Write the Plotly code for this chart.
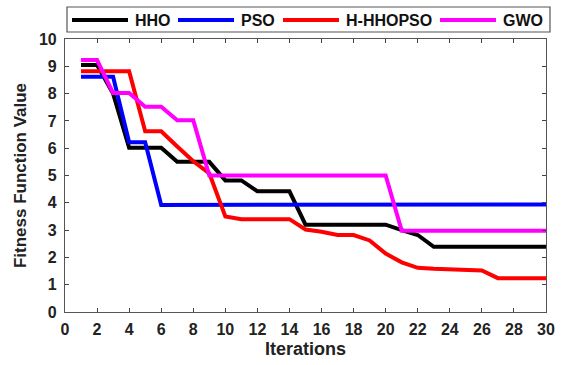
import plotly.graph_objects as go

iterations = list(range(1, 31))
hho = [9.05, 9.05, 8.0, 6.02, 6.02, 6.02, 5.5, 5.5, 5.5, 4.82, 4.82, 4.42, 4.42, 4.42, 3.2,
       3.2, 3.2, 3.2, 3.2, 3.2, 3.0, 2.82, 2.39, 2.39, 2.39, 2.39, 2.39, 2.39, 2.39, 2.39]
pso = [8.62, 8.62, 8.62, 6.22, 6.22, 3.92, 3.92, 3.92, 3.92, 3.92, 3.92, 3.92, 3.92, 3.92, 3.92,
       3.92, 3.92, 3.92, 3.92, 3.92, 3.92, 3.92, 3.92, 3.92, 3.92, 3.92, 3.92, 3.92, 3.92, 3.94]
hhopso = [8.82, 8.82, 8.82, 8.82, 6.62, 6.62, 6.06, 5.52, 5.08, 3.5, 3.4, 3.4, 3.4, 3.4, 3.02,
          2.94, 2.82, 2.82, 2.62, 2.14, 1.82, 1.62, 1.58, 1.57, 1.55, 1.52, 1.24, 1.24, 1.24, 1.24]
gwo = [9.23, 9.23, 8.02, 8.02, 7.52, 7.52, 7.02, 7.02, 5.0, 5.0, 5.0, 5.0, 5.0, 5.0, 5.0,
       5.0, 5.0, 5.0, 5.0, 5.0, 2.98, 2.98, 2.98, 2.98, 2.98, 2.98, 2.98, 2.98, 2.98, 2.98]

names = ["HHO", "PSO", "H-HHOPSO", "GWO"]
colors = ["#000000", "#0000FF", "#FF0000", "#FF00FF"]
values = [hho, pso, hhopso, gwo]

x_ticks = list(range(0, 31, 2))
y_ticks = list(range(0, 11))

W, H = 565, 365
ML, MR, MT, MB = 65, 19, 39, 53
PW, PH = W - ML - MR, H - MT - MB


def px(p):
    return (p - ML) / PW


def py(p):
    return (H - MB - p) / PH


fig = go.Figure()
for name, vals, col in zip(names, values, colors):
    fig.add_trace(go.Scatter(x=iterations, y=vals, mode="lines", name=name,
                             line=dict(color=col, width=4), showlegend=False))

font = "Arial, Liberation Sans, sans-serif"

# custom legend (box, line samples, labels)
shapes = [dict(type="rect", xref="paper", yref="paper", x0=px(67), x1=px(550),
               y0=py(32), y1=py(7), line=dict(color="#555555", width=1.2),
               fillcolor="white", layer="above")]
annotations = []
line_starts = [72, 178, 283, 440]
for name, col, ls in zip(names, colors, line_starts):
    shapes.append(dict(type="line", xref="paper", yref="paper", x0=px(ls), x1=px(ls + 56),
                       y0=py(20), y1=py(20), line=dict(color=col, width=4), layer="above"))
    annotations.append(dict(text=name, xref="paper", yref="paper", x=px(ls + 61), y=py(20.5),
                            xanchor="left", yanchor="middle", showarrow=False,
                            font=dict(size=16, family=font, color="#111111", weight="bold")))

fig.update_layout(
    width=W, height=H,
    margin=dict(l=ML, r=MR, t=MT, b=MB, autoexpand=False),
    plot_bgcolor="white", paper_bgcolor="white",
    font=dict(family=font, color="#222222"),
    showlegend=False,
    shapes=shapes, annotations=annotations,
    xaxis=dict(range=[0, 30], tickvals=x_ticks, ticks="inside", ticklen=4,
               showline=True, linecolor="#555555", linewidth=1.2, mirror="ticks",
               showgrid=False, zeroline=False, ticklabelstandoff=3, automargin=False,
               tickfont=dict(size=16, weight="bold", color="#222222"),
               title=dict(text="Iterations", font=dict(size=18, weight="bold"), standoff=5)),
    yaxis=dict(range=[0, 10], tickvals=y_ticks, ticks="inside", ticklen=4,
               showline=True, linecolor="#555555", linewidth=1.2, mirror="ticks",
               showgrid=False, zeroline=False, ticklabelstandoff=4, automargin=False,
               tickfont=dict(size=16, weight="bold", color="#222222"),
               title=dict(text="Fitness Function Value", font=dict(size=17, weight="bold"), standoff=7)),
)
fig.write_html("out.html")
